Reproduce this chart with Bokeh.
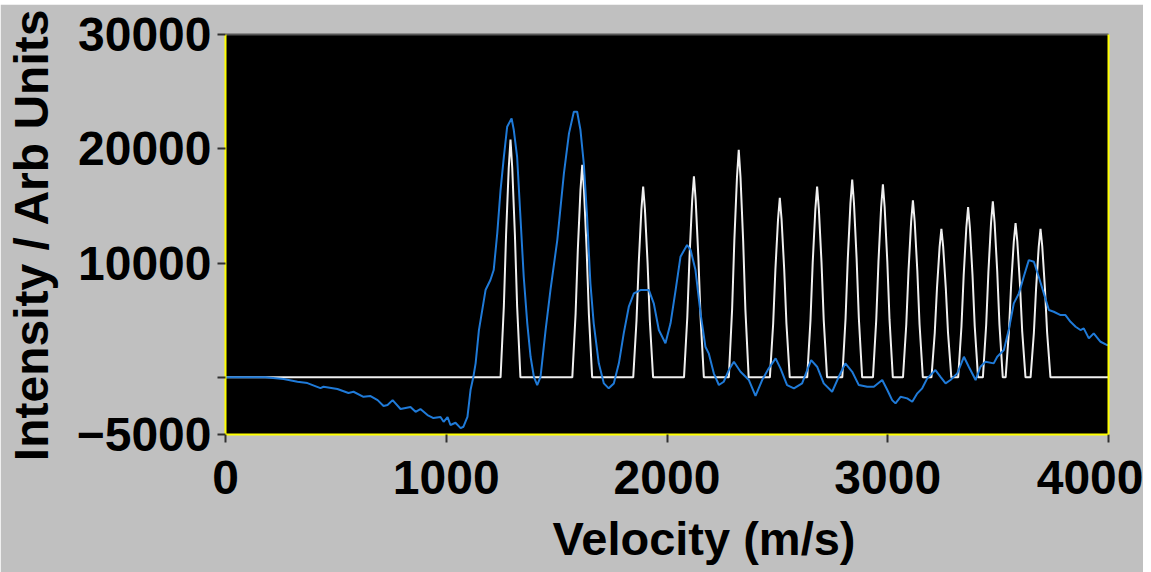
from bokeh.plotting import figure
from bokeh.models import LinearAxis, FixedTicker, Range1d, Title
from bokeh.embed import file_html
from bokeh.resources import INLINE

# ---------------- data ----------------
x_ticks = [0, 1000, 2000, 3000, 4000]
y_ticks = [-5000, 0, 10000, 20000, 30000]

# measured spectrum (blue)
blue_v = [0, 180, 263, 326, 371, 430, 444, 507, 557, 580,
          625, 657, 689, 716, 734, 757, 793, 838, 861, 883,
          915, 942, 974, 988, 1006, 1019, 1042, 1065, 1078, 1096,
          1110, 1123, 1133, 1148, 1163, 1178, 1200, 1215, 1231, 1246,
          1261, 1276, 1296, 1306, 1321, 1336, 1351, 1367, 1382, 1397,
          1412, 1427, 1450, 1472, 1503, 1533, 1556, 1578, 1593, 1608,
          1623, 1638, 1653, 1668, 1691, 1714, 1736, 1759, 1782, 1804,
          1827, 1850, 1880, 1918, 1940, 1963, 1993, 2016, 2039, 2061,
          2091, 2107, 2129, 2152, 2174, 2189, 2212, 2235, 2257, 2280,
          2303, 2333, 2371, 2401, 2431, 2461, 2492, 2514, 2544, 2575,
          2612, 2635, 2653, 2680, 2710, 2748, 2778, 2808, 2839, 2869,
          2907, 2937, 2975, 2998, 3020, 3035, 3058, 3088, 3111, 3134,
          3156, 3179, 3216, 3239, 3262, 3284, 3315, 3345, 3367, 3398,
          3420, 3443, 3480, 3496, 3526, 3548, 3571, 3594, 3616, 3639,
          3662, 3684, 3707, 3730, 3752, 3783, 3805, 3828, 3851, 3873,
          3888, 3911, 3933, 3964, 3994, 4000]
blue_i = [0, 0, -150, -385, -500, -940, -820, -1020, -1370, -1260,
          -1700, -1640, -1990, -2510, -2420, -1990, -2770, -2600, -3010, -2770,
          -3300, -3560, -3470, -3890, -3470, -4170, -3970, -4440, -4320, -3450,
          -1110, 50, 1230, 4140, 5890, 7640, 8520, 9390, 12600, 16390,
          19300, 21930, 22660, 21640, 19300, 14050, 8800, 4730, 1800, 50,
          -670, 50, 4140, 7640, 12010, 17850, 21350, 23240, 23240, 21640,
          18720, 14050, 8230, 4730, 1230, -530, -960, -530, 1230, 3850,
          6180, 7350, 7640, 7640, 6480, 4140, 2980, 4730, 7640, 10550,
          11580, 11140, 9390, 5600, 2680, 2100, 350, -670, -385, 640,
          1365, 490, -235, -1630, -235, 790, 1660, 790, -675, -960,
          -525, 640, 1510, 930, -525, -1260, 50, 1225, 490, -675,
          -820, -820, -235, -1110, -1990, -2275, -1700, -1840, -2135, -1400,
          -960, -90, 640, 50, -525, -235, 350, 1800, 930, -235,
          930, 1365, 1225, 1800, 2390, 4140, 6475, 7350, 8800, 10260,
          10110, 8800, 7350, 5890, 5740, 5450, 5450, 4860, 4430, 4140,
          4290, 3410, 3850, 3115, 2825, 2800]

# simulated comb of peaks (white)
white_v = [0,
           1246, 1261, 1271, 1283, 1291, 1299, 1311, 1321, 1336,
           1571, 1586, 1596, 1608, 1616, 1624, 1636, 1646, 1661,
           1847, 1862, 1872, 1884, 1892, 1900, 1912, 1922, 1937,
           2077, 2092, 2102, 2114, 2122, 2130, 2142, 2152, 2167,
           2280, 2295, 2305, 2317, 2325, 2333, 2345, 2355, 2370,
           2466, 2481, 2491, 2503, 2511, 2519, 2531, 2541, 2556,
           2635, 2650, 2660, 2672, 2680, 2688, 2700, 2710, 2725,
           2794, 2809, 2819, 2831, 2839, 2847, 2859, 2869, 2884,
           2933, 2948, 2958, 2970, 2978, 2986, 2998, 3008, 3023,
           3069, 3084, 3094, 3106, 3114, 3122, 3134, 3144, 3159,
           3198, 3213, 3223, 3235, 3243, 3251, 3263, 3273, 3288,
           3319, 3334, 3344, 3356, 3364, 3372, 3384, 3394, 3409,
           3431, 3446, 3456, 3468, 3476, 3484, 3496, 3506, 3521,
           3534, 3549, 3559, 3571, 3579, 3587, 3599, 3609, 3624,
           3647, 3662, 3672, 3684, 3692, 3700, 3712, 3722, 3737,
           4000]
white_i = [0,
           0, 6240, 12480, 18300, 20800, 18300, 12480, 6240, 0,
           0, 5580, 11160, 16370, 18600, 16370, 11160, 5580, 0,
           0, 5010, 10020, 14700, 16700, 14700, 10020, 5010, 0,
           0, 5280, 10560, 15490, 17600, 15490, 10560, 5280, 0,
           0, 5970, 11940, 17510, 19900, 17510, 11940, 5970, 0,
           0, 4710, 9420, 13820, 15700, 13820, 9420, 4710, 0,
           0, 5010, 10020, 14700, 16700, 14700, 10020, 5010, 0,
           0, 5190, 10380, 15220, 17300, 15220, 10380, 5190, 0,
           0, 5070, 10140, 14870, 16900, 14870, 10140, 5070, 0,
           0, 4650, 9300, 13640, 15500, 13640, 9300, 4650, 0,
           0, 3900, 7800, 11440, 13000, 11440, 7800, 3900, 0,
           0, 4470, 8940, 13110, 14900, 13110, 8940, 4470, 0,
           0, 4620, 9240, 13550, 15400, 13550, 9240, 4620, 0,
           0, 4050, 8100, 11880, 13500, 11880, 8100, 4050, 0,
           0, 3900, 7800, 11440, 13000, 11440, 7800, 3900, 0,
           0]

# ---------------- figure ----------------
FONT = "Liberation Sans"

p = figure(output_backend="svg", toolbar_location=None,
           x_range=Range1d(0, 4000), y_range=Range1d(-5000, 30000),
           frame_width=883, frame_height=400,
           min_border_left=225, min_border_right=35,
           min_border_top=30, min_border_bottom=138,
           background_fill_color="black", border_fill_color="#c0c0c0",
           outline_line_color=None)
p.margin = (4, 0, 0, 0)
p.grid.visible = False

p.line(white_v, white_i, line_color="#f0f0f0", line_width=2)
p.line(blue_v, blue_i, line_color="#1f7ad8", line_width=2)

for ax in (p.xaxis[0], p.yaxis[0]):
    ax.axis_line_color = "#ffff00"
    ax.axis_line_width = 2
    ax.major_tick_line_color = "#303030"
    ax.major_tick_line_width = 2
    ax.major_tick_out = 8
    ax.major_tick_in = 0
    ax.minor_tick_line_color = None
    ax.major_label_text_font = FONT
    ax.major_label_text_font_style = "bold"
    ax.major_label_text_font_size = "48px"
    ax.major_label_text_color = "black"
    ax.axis_label_text_font = FONT
    ax.axis_label_text_font_style = "bold"
    ax.axis_label_text_font_size = "48px"
    ax.axis_label_text_color = "black"

p.xaxis.ticker = FixedTicker(ticks=x_ticks)
p.yaxis.ticker = FixedTicker(ticks=y_ticks)
p.yaxis.major_label_overrides = {0: ""}
p.yaxis.axis_label = "Intensity / Arb Units"
p.xaxis.major_label_standoff = 18
p.yaxis.major_label_standoff = 6
p.yaxis.axis_label_standoff = 16

right_ax = LinearAxis(ticker=FixedTicker(ticks=[]), axis_line_color="#ffff00",
                      axis_line_width=2, major_tick_line_color=None,
                      minor_tick_line_color=None, major_label_text_font_size="0px")
p.add_layout(right_ax, "right")
top_ax = LinearAxis(ticker=FixedTicker(ticks=[]), axis_line_color="#555555",
                    axis_line_width=2, major_tick_line_color=None,
                    minor_tick_line_color=None, major_label_text_font_size="0px")
p.add_layout(top_ax, "above")

xlabel = Title(text="Velocity (m/s)", align="left", offset=327, standoff=26,
               text_font=FONT, text_font_style="bold", text_font_size="47px",
               text_color="black")
p.add_layout(xlabel, "below")

open("out.html", "w").write(file_html(p, INLINE, title="Velocity spectrum"))
